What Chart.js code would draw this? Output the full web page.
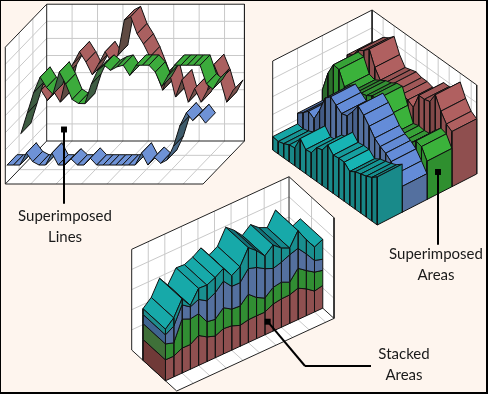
<!doctype html>
<html>
<head>
<meta charset="utf-8">
<title>Superimposed and stacked 3D charts</title>
<script src="https://cdn.jsdelivr.net/npm/chart.js"></script>
<style>
  html, body { margin: 0; padding: 0; background: #fef5ee; }
  #wrap { position: relative; width: 488px; height: 394px; }
  #wrap:after { content: ''; position: absolute; left: 0; top: 0; right: 0; bottom: 0;
    border-style: solid; border-color: #000; border-width: 1px 2px 2px 1px; }
  canvas { display: block; }
</style>
</head>
<body>
<div id="wrap"><canvas id="grafico" width="488" height="394"></canvas></div>
<script>
// superimposed lines
var lineRed = [3.5,3.7,3.1,3.6,3.0,4.6,5.25,5.95,5.35,4.6,5.25,5.95,5.35,5.75,7.8,8.0,7.0,6.4,5.65,4.7,3.7,4.8,3.3,4.3,3.0,3.8,3.0,3.7,5.2,4.3,3.0,3.7];
var lineGreen = [2.0,3.2,4.4,5.3,4.7,4.3,5.6,4.9,4.0,3.76,3.75,4.9,5.7,6.0,5.7,5.9,6.0,5.4,6.0,6.0,6.0,5.6,4.75,5.4,6.0,6.0,6.0,6.0,6.0,4.9,4.6,5.2];
var lineBlue = [1.0,1.0,1.0,1.7,1.2,1.0,1.0,1.7,1.0,1.0,1.35,1.0,1.0,1.4,1.0,1.0,1.0,1.0,1.0,1.0,1.0,1.7,1.0,1.45,1.1,1.3,2.1,3.3,4.05,3.6,3.95,3.45];

// superimposed areas
var areaRed = [3.2,3.4,3.9,4.1,4.4,3.6,3.1,3.2,3.3,3.2,3.2,3.1,2.9,3.8,3.8,3.9,4.5,3.8,3.3,3.1];
var areaGreen = [1.95,3.1,3.8,3.75,3.0,2.9,3.1,3.3,3.4,3.6,3.65,2.8,2.0,2.1,2.05,2.1,2.5,2.85,2.75,2.15];
var areaBlue = [1.35,1.6,1.9,1.7,2.4,3.3,3.6,3.35,3.1,3.2,3.65,4.2,3.9,3.5,3.05,2.8,2.65,2.4,1.95,1.45];
var areaTeal = [0.75,0.7,0.8,0.95,1.0,1.75,1.35,1.4,1.9,2.0,2.5,2.15,2.2,2.2,1.9,2.1,2.2,2.3,2.45,2.7];

// stacked areas
var stackRed = [1.04,1.03,1.24,1.23,1.49,1.23,1.08,1.26,1.21,1.04,1.13,1.14,1.13,1.34,1.41,1.42,1.56,1.34,1.04,1.13];
var stackGreen = [0.79,0.66,1.44,1.27,1.08,0.75,0.83,1.04,0.83,0.96,1.27,0.91,0.70,0.83,0.83,0.63,0.99,0.91,0.94,0.75];
var stackBlue = [0.45,0.83,0.71,0.60,0.71,1.04,1.32,1.32,1.13,1.16,1.27,1.49,1.46,0.94,0.99,1.36,0.99,0.83,0.58,0.55];
var stackTeal = [0.28,0.41,0.30,0.07,0.55,0.78,0.75,0.63,0.53,0.79,1.04,0.83,0.63,1.16,0.70,0.33,0.88,0.70,0.66,0.99];

var labelLines = ['Superimposed', 'Lines'];
var labelAreas = ['Superimposed', 'Areas'];
var labelStacked = ['Stacked', 'Areas'];

var CINZA = '#c9c9c9';
var lista = [];

function poligono(pts, fill, borda, larg) {
    var data = pts.slice();
    if (fill) data.push(pts[0]);
    lista.push({
        data: data,
        showLine: true,
        fill: fill ? 'shape' : false,
        backgroundColor: fill || 'transparent',
        borderColor: borda || 'transparent',
        borderWidth: larg === undefined ? 1 : larg,
        borderJoinStyle: 'round',
        pointRadius: 0,
        tension: 0
    });
}
function linha(a, b, cor, larg) { poligono([a, b], null, cor, larg); }

function mix(a, b, t) {
    t = Math.max(0, Math.min(1, t));
    var pa = [1, 3, 5].map(k => parseInt(a.substr(k, 2), 16));
    var pb = [1, 3, 5].map(k => parseInt(b.substr(k, 2), 16));
    return 'rgb(' + pa.map((v, k) => Math.round(v + (pb[k] - v) * t)).join(',') + ')';
}

// ---- painel 1: linhas sobrepostas
function p1(i, v, d) {
    return { x: 5.3 + i * 6.4 + d * 13.8, y: 184 - d * 14.33 - v * 17.1 };
}
function desenhaLinhas() {
    var topo = 8, prof = 3, fim = 30.9, passo = 3.97;
    poligono([p1(0,0,prof), p1(fim,0,prof), p1(fim,topo,prof), p1(0,topo,prof)], '#ffffff', null, 0);
    poligono([p1(0,0,0), p1(0,0,prof), p1(0,topo,prof), p1(0,topo,0)], '#ffffff', null, 0);
    poligono([p1(0,0,0), p1(fim,0,0), p1(fim,0,prof), p1(0,0,prof)], '#ffffff', null, 0);
    for (var v = 1; v < topo; v++) {
        linha(p1(0,v,prof), p1(fim,v,prof), CINZA);
        linha(p1(0,v,0), p1(0,v,prof), CINZA);
    }
    for (var i = passo; i < fim; i += passo) {
        linha(p1(i,0,prof), p1(i,topo,prof), CINZA);
        linha(p1(i,0,0), p1(i,0,prof), CINZA);
    }
    for (var d = 1; d < prof; d++) {
        linha(p1(0,0,d), p1(0,topo,d), CINZA);
        linha(p1(0,0,d), p1(fim,0,d), CINZA);
    }
    linha(p1(0,0,0), p1(0,topo,0), '#222');
    linha(p1(0,topo,0), p1(0,topo,prof), '#222');
    linha(p1(0,0,prof), p1(0,topo,prof), '#222');
    linha(p1(0,topo,prof), p1(fim,topo,prof), '#222');
    linha(p1(fim,topo,prof), p1(fim,0,prof), '#222');
    linha(p1(0,0,prof), p1(fim,0,prof), '#222');
    linha(p1(0,0,0), p1(fim,0,0), '#222');
    linha(p1(fim,0,0), p1(fim,0,prof), '#222');
    linha(p1(0,0,0), p1(0,0,prof), '#222');

    [[lineRed, 2, '#aa6060', '#5f4a42'], [lineGreen, 1, '#3cab3c', '#3e5c42'], [lineBlue, 0, '#6e92d6', '#3d5a6a']].forEach(function (s) {
        var d0 = s[1] + 0.13, d1 = s[1] + 0.85;
        for (var i = 0; i < s[0].length - 1; i++) {
            var a = s[0][i], b = s[0][i + 1];
            poligono([p1(i,a,d0), p1(i+1,b,d0), p1(i+1,b,d1), p1(i,a,d1)], mix(s[2], s[3], (b - a) / 1.1), '#111', 1);
        }
    });
}

// ---- painel 2: areas sobrepostas
function p2(i, v, d) {
    return { x: 272.7 + i * 5.505 + d * 24.85, y: 150 + i * 3.947 - d * 12.75 - v * 17.8 };
}
function desenhaAreas() {
    var topo = 5, prof = 4, fim = 19;
    poligono([p2(0,0,0), p2(0,0,prof), p2(0,topo,prof), p2(0,topo,0)], '#ffffff', null, 0);
    poligono([p2(0,0,prof), p2(fim,0,prof), p2(fim,topo,prof), p2(0,topo,prof)], '#ffffff', null, 0);
    for (var v = 1; v < topo; v++) {
        linha(p2(0,v,0), p2(0,v,prof), CINZA);
        linha(p2(0,v,prof), p2(fim,v,prof), CINZA);
    }
    for (var d = 1; d < prof; d++) linha(p2(0,0,d), p2(0,topo,d), CINZA);
    for (var i = 2; i < fim; i += 2) linha(p2(i,0,prof), p2(i,topo,prof), CINZA);
    linha(p2(0,0,0), p2(0,topo,0), '#222');
    linha(p2(0,topo,0), p2(0,topo,prof), '#222');
    linha(p2(0,topo,prof), p2(fim,topo,prof), '#222');
    linha(p2(fim,topo,prof), p2(fim,0,prof), '#222');
    linha(p2(0,topo,prof), p2(0,0,prof), '#222');

    [[areaRed, 3, '#b06060', '#8f4f4f', '#7a4444'],
     [areaGreen, 2, '#3bb23b', '#2f8f2f', '#2a6a2a'],
     [areaBlue, 1, '#648cd8', '#54709f', '#425a85'],
     [areaTeal, 0, '#17b4b4', '#198a8a', '#146f6f']].forEach(function (s) {
        var d0 = s[1], d1 = s[1] + 1, n = s[0].length;
        for (var i = 0; i < n - 1; i++) {
            var a = s[0][i], b = s[0][i + 1];
            poligono([p2(i,a,d1), p2(i+1,b,d1), p2(i+1,b,d0), p2(i,a,d0)], mix(s[2], s[4], (b - a) / 0.6 + 0.3), '#111', 1);
            poligono([p2(i,0,d0), p2(i+1,0,d0), p2(i+1,b,d0), p2(i,a,d0)], mix(s[3], s[4], (b - a) / 0.8), '#111', 1);
        }
        poligono([p2(n-1,0,d0), p2(n-1,0,d1), p2(n-1,s[0][n-1],d1), p2(n-1,s[0][n-1],d0)], s[3], '#111', 1);
    });
}

// ---- painel 3: areas empilhadas
function p3(i, v, d) {
    return { x: 176.7 + i * 8.28 - d * 45, y: 391 - i * 3.82 - d * 41 - v * 20.14 };
}
function desenhaPilha() {
    var topo = 5, fim = 19;
    poligono([p3(0,0,1), p3(fim,0,1), p3(fim,topo,1), p3(0,topo,1)], '#ffffff', null, 0);
    poligono([p3(fim,0,0), p3(fim,0,1), p3(fim,topo,1), p3(fim,topo,0)], '#ffffff', null, 0);
    poligono([p3(0,0,0), p3(fim,0,0), p3(fim,0,1), p3(0,0,1)], '#ffffff', null, 0);
    for (var v = 1; v < topo; v++) {
        linha(p3(0,v,1), p3(fim,v,1), CINZA);
        linha(p3(fim,v,0), p3(fim,v,1), CINZA);
    }
    for (var i = 2; i < fim; i += 2) {
        linha(p3(i,0,1), p3(i,topo,1), CINZA);
        linha(p3(i,0,0), p3(i,0,1), CINZA);
    }
    linha(p3(fim,0,0.5), p3(fim,topo,0.5), CINZA);
    linha(p3(0,0,0.5), p3(fim,0,0.5), CINZA);
    linha(p3(0,0,1), p3(0,topo,1), '#222');
    linha(p3(0,topo,1), p3(fim,topo,1), '#222');
    linha(p3(fim,topo,1), p3(fim,topo,0), '#222');
    linha(p3(fim,topo,0), p3(fim,0,0), '#222');
    linha(p3(fim,0,0), p3(fim,0,1), '#222');
    linha(p3(fim,0,1), p3(fim,topo,1), '#222');
    linha(p3(0,0,1), p3(0,0,0), '#222');
    linha(p3(0,0,0), p3(fim,0,0), '#222');

    var camadas = [stackRed, stackGreen, stackBlue, stackTeal];
    var cores = ['#8f5050', '#318e33', '#54709f', '#198f8f'];
    var coresFim = ['#703a38', '#3f7039', '#3f6490', '#1d8d8d'];
    var d0 = 0.25, d1 = 0.75;
    function soma(k, i) {
        var t = 0;
        for (var c = 0; c < k; c++) t += camadas[c][i];
        return t;
    }
    for (var i = fim - 1; i >= 0; i--) {
        var a = soma(4, i), b = soma(4, i + 1);
        poligono([p3(i,a,d1), p3(i+1,b,d1), p3(i+1,b,d0), p3(i,a,d0)], mix('#17a9a9', '#10555f', (a - b) / 0.55 + 0.05), '#111', 1);
        for (var k = 0; k < 4; k++) {
            poligono([p3(i,soma(k,i),d0), p3(i+1,soma(k,i+1),d0), p3(i+1,soma(k+1,i+1),d0), p3(i,soma(k+1,i),d0)], cores[k], '#111', 1);
        }
    }
    for (var k = 0; k < 4; k++) {
        poligono([p3(0,soma(k,0),d0), p3(0,soma(k+1,0),d0), p3(0,soma(k+1,0),d1), p3(0,soma(k,0),d1)], coresFim[k], '#111', 1);
    }
}

// ---- chamadas de legenda (quadrado + linha)
function chamada(pts) {
    for (var i = 0; i < pts.length - 1; i++) linha(pts[i], pts[i + 1], '#000', 2);
    lista.push({ data: [pts[0]], pointStyle: 'rect', pointRadius: 4.2, backgroundColor: '#000', borderWidth: 0 });
}

desenhaLinhas();
desenhaAreas();
desenhaPilha();
chamada([{ x: 64, y: 129.5 }, { x: 64, y: 203 }]);
chamada([{ x: 438, y: 172 }, { x: 438, y: 244 }]);
chamada([{ x: 267.7, y: 321.7 }, { x: 305, y: 366 }, { x: 371, y: 366 }]);

var textos = [
    { t: labelLines[0], x: 65, y: 216 }, { t: labelLines[1], x: 65, y: 237 },
    { t: labelAreas[0], x: 436, y: 254 }, { t: labelAreas[1], x: 436, y: 275 },
    { t: labelStacked[0], x: 404, y: 354 }, { t: labelStacked[1], x: 404, y: 375 }
];
var pluginTextos = {
    id: 'textos',
    afterDraw: function (chart) {
        var ctx = chart.ctx;
        ctx.save();
        ctx.font = '15px Lato';
        ctx.fillStyle = '#1a1a1a';
        ctx.textAlign = 'center';
        ctx.textBaseline = 'middle';
        textos.forEach(function (l) { ctx.fillText(l.t, l.x, l.y); });
        ctx.restore();
    }
};

// o Chart.js desenha o dataset 0 por cima, entao inverte a lista
new Chart(document.getElementById('grafico').getContext('2d'), {
    type: 'scatter',
    data: { datasets: lista.reverse() },
    options: {
        responsive: false,
        animation: false,
        events: [],
        layout: { padding: 0, autoPadding: false },
        plugins: { legend: { display: false }, tooltip: { enabled: false } },
        scales: {
            x: { display: false, min: 0, max: 488 },
            y: { display: false, min: 0, max: 394, reverse: true }
        }
    },
    plugins: [pluginTextos]
});
</script>
</body>
</html>
